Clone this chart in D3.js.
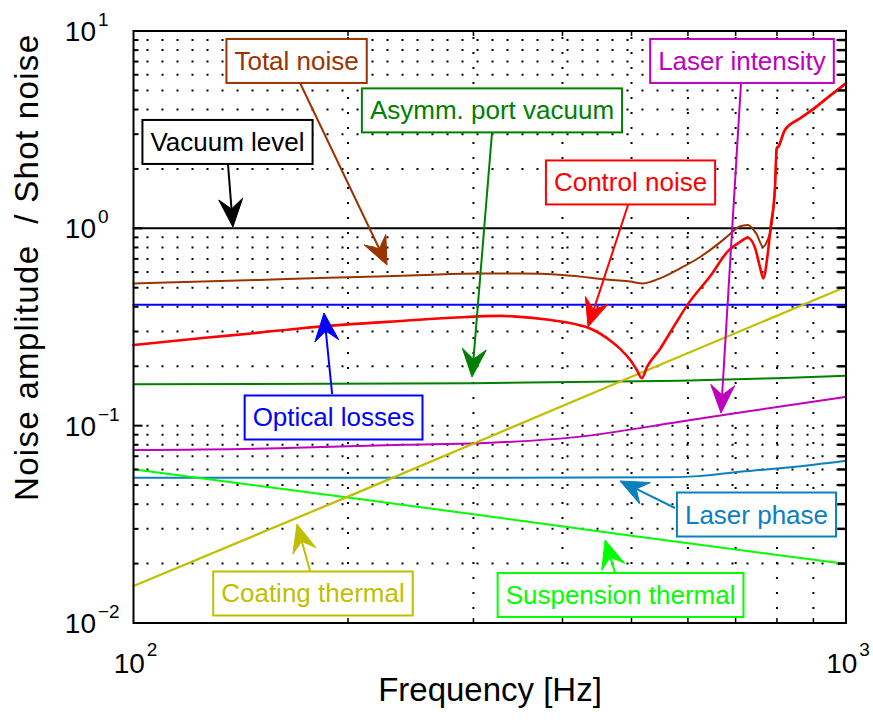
<!DOCTYPE html>
<html>
<head>
<meta charset="utf-8">
<script src="https://cdn.jsdelivr.net/npm/d3@7"></script>
<style>
  html, body { margin: 0; padding: 0; background: #fff; }
  svg { display: block; font-family: "Liberation Sans", Arial, Helvetica, sans-serif; }
</style>
</head>
<body>
<svg id="chart" width="873" height="724"></svg>
<script>
// ---- Noise budget curves: [frequency Hz, amplitude relative to shot noise] ----
const vacuumLevel = [[100, 1.0], [1000, 1.0]];
const totalNoise = [
  [100, 0.526], [150, 0.548], [188, 0.562], [250, 0.578], [306, 0.59], [350, 0.59],
  [400, 0.58], [470, 0.547], [498, 0.537], [519, 0.526], [548, 0.558], [585, 0.627],
  [625, 0.718], [663, 0.839], [685, 0.925], [708, 1.02], [728, 1.04], [748, 0.943],
  [765, 0.807], [776, 0.872], [786, 1.03], [795, 1.64], [799.4, 2.56], [803.6, 2.61],
  [821, 3.17], [862, 3.62], [900, 4.04], [950, 4.72], [1000, 5.45]
];
const opticalLosses = [[100, 0.41], [1000, 0.41]];
const controlNoise = [
  [100, 0.256], [125, 0.278], [150, 0.296], [171, 0.311], [200, 0.326], [240, 0.340],
  [280, 0.352], [327, 0.360], [341, 0.358], [380, 0.345], [424, 0.322], [438, 0.310],
  [470, 0.265], [482, 0.245], [498, 0.215], [508, 0.193], [517, 0.174], [526, 0.199],
  [548, 0.244], [575, 0.324], [600, 0.413], [645, 0.573], [685, 0.776], [709, 0.85],
  [728, 0.896], [745, 0.80], [757, 0.64], [765.5, 0.558], [775.6, 0.718], [784, 1.02],
  [795, 1.62], [799.4, 2.54], [803.6, 2.59], [821, 3.15], [862, 3.60], [900, 4.02],
  [950, 4.70], [1000, 5.43]
];
const asymmPortVacuum = [[100, 0.162], [300, 0.164], [584, 0.169], [800, 0.174], [1000, 0.179]];
const laserIntensity = [
  [100, 0.0752], [160, 0.0768], [190, 0.0782], [240, 0.080], [306, 0.0815],
  [424, 0.0880], [584, 0.1047], [726, 0.118], [1000, 0.140]
];
const laserPhase = [
  [100, 0.0545], [300, 0.0545], [554, 0.0547], [620, 0.0555], [710, 0.0584],
  [836, 0.0615], [1000, 0.0664]
];
const coatingThermal = [[100, 0.0154], [200, 0.0437], [500, 0.177], [1000, 0.506]];
const suspensionThermal = [[100, 0.060], [200, 0.0433], [500, 0.0277], [1000, 0.0199]];

// Series styling, in drawing order
const seriesList = [
  { data: vacuumLevel,       color: "#000000", width: 2 },
  { data: totalNoise,        color: "#993300", width: 2 },
  { data: opticalLosses,     color: "#0000ff", width: 2.2 },
  { data: asymmPortVacuum,   color: "#008000", width: 2 },
  { data: laserIntensity,    color: "#bf00bf", width: 2 },
  { data: laserPhase,        color: "#0a80c0", width: 2 },
  { data: suspensionThermal, color: "#00ff00", width: 2 },
  { data: coatingThermal,    color: "#bfbf00", width: 2.2 },
  { data: controlNoise,      color: "#ff0000", width: 2.6 }
];

// ---- Annotation call-outs: label, colour, box centre, arrow tail, arrow tip (data coords) ----
const annotLabels = ["Total noise", "Asymm. port vacuum", "Vacuum level", "Laser intensity",
  "Control noise", "Optical losses", "Laser phase", "Coating thermal", "Suspension thermal"];
const annotColors = ["#993300", "#008000", "#000000", "#bf00bf", "#ff0000", "#0000ff",
  "#0a80c0", "#bfbf00", "#00ff00"];
const annotBox  = [[169.4, 7.05], [318.5, 3.96], [135.5, 2.74], [714.5, 7.05], [498.4, 1.708],
  [190.9, 0.110], [748.8, 0.03546], [178.6, 0.01411], [482.6, 0.01387]];
const annotTail = [[171.3, 5.45], [318.5, 3.04], [135.7, 2.12], [712.3, 5.45], [494.4, 1.313],
  [190.0, 0.1447], [575.4, 0.03826], [176.9, 0.01835], [474.2, 0.01792]];
const annotTip  = [[226.9, 0.652], [298.6, 0.1764], [137.9, 1.016], [667.7, 0.1159], [434.5, 0.3164],
  [185.1, 0.3724], [481.8, 0.05245], [169.6, 0.03176], [459.1, 0.02634]];

// ---- Axis ticks ----
const xMajorTicks = [100, 1000];
const xMajorLabels = [["10", "2"], ["10", "3"]];
const yMajorTicks = [0.01, 0.1, 1, 10];
const yMajorLabels = [["10", "\u22122"], ["10", "\u22121"], ["10", "0"], ["10", "1"]];
const xLabel = "Frequency [Hz]";
const yLabel = "Noise amplitude  / Shot noise";

// ---- Layout ----
const margin = { left: 133.5, top: 31, right: 846, bottom: 623 };
const svg = d3.select("#chart");

const x = d3.scaleLog().domain([100, 1000]).range([margin.left, margin.right]);
const y = d3.scaleLog().domain([0.01, 10]).range([margin.bottom, margin.top]);

const xMinor = [];
for (let k = 2; k <= 9; k++) xMinor.push(k * 100);
const yMinor = [];
[0.01, 0.1, 1].forEach(d => { for (let k = 2; k <= 9; k++) yMinor.push(+(k * d).toPrecision(3)); });

// Dotted grid
const grid = svg.append("g").attr("class", "grid")
  .attr("stroke", "#000").attr("stroke-width", 2).attr("stroke-dasharray", "2 13");
xMinor.forEach(v => grid.append("line")
  .attr("x1", x(v)).attr("x2", x(v)).attr("y1", margin.top + 6).attr("y2", margin.bottom));
yMinor.concat([0.1]).forEach(v => grid.append("line")
  .attr("x1", margin.left + 13).attr("x2", margin.right).attr("y1", y(v)).attr("y2", y(v)));

// Curves
const line = d3.line().x(d => x(d[0])).y(d => y(d[1])).curve(d3.curveMonotoneX);
const curves = svg.append("g").attr("class", "curves").attr("fill", "none")
  .attr("stroke-linejoin", "round").attr("stroke-linecap", "round");
seriesList.forEach(s => curves.append("path")
  .datum(s.data).attr("d", line).attr("stroke", s.color).attr("stroke-width", s.width));

// Frame and inward ticks
const frame = svg.append("g").attr("class", "frame").attr("stroke", "#000");
frame.append("rect")
  .attr("x", margin.left).attr("y", margin.top)
  .attr("width", margin.right - margin.left).attr("height", margin.bottom - margin.top)
  .attr("fill", "none").attr("stroke-width", 2);
const minorLen = 5, majorLen = 9;
xMinor.forEach(v => {
  frame.append("line").attr("x1", x(v)).attr("x2", x(v)).attr("y1", margin.bottom).attr("y2", margin.bottom - minorLen).attr("stroke-width", 1.5);
  frame.append("line").attr("x1", x(v)).attr("x2", x(v)).attr("y1", margin.top).attr("y2", margin.top + minorLen).attr("stroke-width", 1.5);
});
yMinor.forEach(v => {
  frame.append("line").attr("x1", margin.left).attr("x2", margin.left + minorLen).attr("y1", y(v)).attr("y2", y(v)).attr("stroke-width", 2);
  frame.append("line").attr("x1", margin.right).attr("x2", margin.right - minorLen - 3).attr("y1", y(v)).attr("y2", y(v)).attr("stroke-width", 2.5);
});
yMajorTicks.forEach(v => {
  frame.append("line").attr("x1", margin.left).attr("x2", margin.left + majorLen).attr("y1", y(v)).attr("y2", y(v)).attr("stroke-width", 2);
  frame.append("line").attr("x1", margin.right).attr("x2", margin.right - majorLen).attr("y1", y(v)).attr("y2", y(v)).attr("stroke-width", 2);
});

// Tick labels (power-of-ten notation)
const tickG = svg.append("g").attr("class", "ticklabels").attr("fill", "#000");
yMajorTicks.forEach((v, i) => {
  tickG.append("text").attr("x", 96).attr("y", y(v) + 10)
    .attr("text-anchor", "end").attr("font-size", 28).text(yMajorLabels[i][0]);
  tickG.append("text").attr("x", 98).attr("y", y(v) - 5)
    .attr("font-size", 19).text(yMajorLabels[i][1]);
});
xMajorTicks.forEach((v, i) => {
  const g = tickG.append("g");
  const base = g.append("text").attr("x", 0).attr("y", 673).attr("font-size", 28).text(xMajorLabels[i][0]);
  const bw = base.node().getComputedTextLength();
  const ex = g.append("text").attr("x", bw + 2).attr("y", 656).attr("font-size", 19).text(xMajorLabels[i][1]);
  const total = bw + 2 + ex.node().getComputedTextLength();
  g.attr("transform", `translate(${x(v) - total / 2 + 2},0)`);
});

// Axis titles
svg.append("text").attr("x", 490).attr("y", 701)
  .attr("text-anchor", "middle").attr("font-size", 33).text(xLabel);
svg.append("text").attr("transform", "translate(38,268) rotate(-90)")
  .attr("text-anchor", "middle").attr("font-size", 33)
  .attr("textLength", 466).attr("lengthAdjust", "spacing")
  .style("white-space", "pre").text(yLabel);

// Call-outs: arrow then box with label
const ann = svg.append("g").attr("class", "annotations");
const headLen = 28, headHalf = 12, notch = 10;
annotLabels.forEach((label, i) => {
  const c = annotColors[i];
  const tx = x(annotTail[i][0]), ty = y(annotTail[i][1]);
  const px = x(annotTip[i][0]), py = y(annotTip[i][1]);
  const ang = Math.atan2(py - ty, px - tx);
  const ux = Math.cos(ang), uy = Math.sin(ang);
  const nx = -uy, ny = ux;
  const bx = px - ux * headLen, by = py - uy * headLen;
  const mx = px - ux * (headLen - notch), my = py - uy * (headLen - notch);
  ann.append("line").attr("x1", tx).attr("y1", ty).attr("x2", mx).attr("y2", my)
    .attr("stroke", c).attr("stroke-width", 2);
  ann.append("path")
    .attr("d", `M${px},${py}L${bx + nx * headHalf},${by + ny * headHalf}L${mx},${my}L${bx - nx * headHalf},${by - ny * headHalf}Z`)
    .attr("fill", c).attr("stroke", c).attr("stroke-width", 1).attr("stroke-linejoin", "miter");

  const cx = x(annotBox[i][0]), cy = y(annotBox[i][1]);
  const g = ann.append("g");
  const rect = g.append("rect").attr("fill", "#fff").attr("stroke", c).attr("stroke-width", 2);
  const t = g.append("text").attr("x", cx).attr("y", cy + 9).attr("text-anchor", "middle")
    .attr("font-size", 26).attr("fill", c).text(label);
  const w = t.node().getComputedTextLength() + 16, h = 44;
  rect.attr("x", cx - w / 2).attr("y", cy - h / 2).attr("width", w).attr("height", h);
});
</script>
</body>
</html>
